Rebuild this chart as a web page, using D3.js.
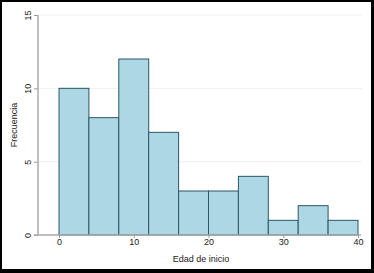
<!DOCTYPE html>
<html>
<head>
<meta charset="utf-8">
<script src="https://cdn.jsdelivr.net/npm/d3@7"></script>
<style>
  body { margin: 0; background: #000; }
  svg { display: block; }
  text { font-family: "Liberation Sans", Arial, sans-serif; fill: #222; }
</style>
</head>
<body>
<div id="chart"></div>
<script>
// bins of 4 years each
var binStarts = [0, 4, 8, 12, 16, 20, 24, 28, 32, 36];
var binWidth = 4;
var counts = [10, 8, 12, 7, 3, 3, 4, 1, 2, 1];
var xTicks = [0, 10, 20, 30, 40];
var yTicks = [0, 5, 10, 15];

var W = 374, H = 273;

var svg = d3.select("#chart").append("svg")
    .attr("width", W)
    .attr("height", H);

// black frame
svg.append("rect").attr("width", W).attr("height", H).attr("fill", "#000");
svg.append("rect")
    .attr("x", 2).attr("y", 2)
    .attr("width", 369).attr("height", 267)
    .attr("fill", "#fff");

var x = d3.scaleLinear().domain([0, 40]).range([59, 358]);
var y = d3.scaleLinear().domain([0, 15]).range([235, 15]);

// faint gridlines
svg.append("g").selectAll("line")
    .data(yTicks.filter(function(d) { return d > 0; }))
    .enter().append("line")
    .attr("x1", 39).attr("x2", 362)
    .attr("y1", function(d) { return y(d); })
    .attr("y2", function(d) { return y(d); })
    .attr("stroke", "#eef0f0")
    .attr("stroke-width", 1);

// bars
svg.append("g").selectAll("rect")
    .data(binStarts)
    .enter().append("rect")
    .attr("x", function(d) { return x(d); })
    .attr("y", function(d, i) { return y(counts[i]); })
    .attr("width", function(d) { return x(d + binWidth) - x(d); })
    .attr("height", function(d, i) { return y(0) - y(counts[i]); })
    .attr("fill", "#add7e4")
    .attr("stroke", "#2b5766")
    .attr("stroke-width", 1);

// y axis
var yAxis = d3.axisLeft(y).tickValues(yTicks).tickSize(4).tickPadding(3);
var gy = svg.append("g")
    .attr("transform", "translate(38,0)")
    .call(yAxis);
gy.select(".domain").remove();
gy.selectAll(".tick line").attr("stroke", "#999");
gy.selectAll(".tick text")
    .attr("font-size", 9)
    .attr("text-anchor", "middle")
    .attr("transform", function() { return "rotate(-90," + (-10) + ",0)"; })
    .attr("x", -10)
    .attr("dy", "0.35em");
gy.append("line")
    .attr("x1", 0).attr("x2", 0)
    .attr("y1", y(15)).attr("y2", y(0))
    .attr("stroke", "#aaa")
    .attr("stroke-width", 1.5);

// x axis
var xAxis = d3.axisBottom(x).tickValues(xTicks).tickSize(3).tickPadding(1);
var gx = svg.append("g")
    .attr("transform", "translate(0,235)")
    .call(xAxis);
gx.select(".domain").remove();
gx.selectAll(".tick line").attr("stroke", "#999");
gx.selectAll(".tick text").attr("font-size", 9);
gx.append("line")
    .attr("x1", 34).attr("x2", 361)
    .attr("y1", 0).attr("y2", 0)
    .attr("stroke", "#aaa")
    .attr("stroke-width", 1.5);

// axis titles
svg.append("text")
    .attr("x", 201).attr("y", 262)
    .attr("text-anchor", "middle")
    .attr("font-size", 9)
    .text("Edad de inicio");

svg.append("text")
    .attr("transform", "translate(17,125) rotate(-90)")
    .attr("text-anchor", "middle")
    .attr("font-size", 9)
    .text("Frecuencia");
</script>
</body>
</html>
